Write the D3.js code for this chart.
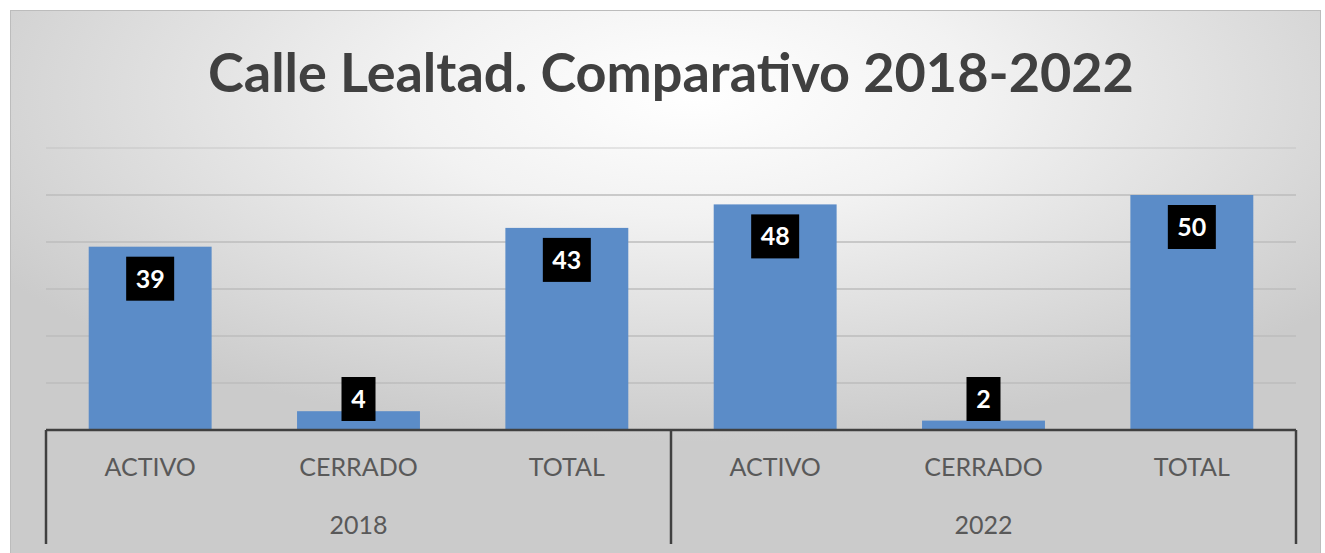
<!DOCTYPE html>
<html lang="es">
<head>
  <meta charset="UTF-8">
  <title>Calle Lealtad. Comparativo 2018-2022</title>
  <script src="https://d3js.org/d3.v7.min.js"></script>
  <style>
    body { margin: 0; background: #fff; }
    .grid line { stroke: #bdbdbd; stroke-width: 1.5; }
    .bar { fill: #5b8cc8; }
    .axis-line { stroke: #404040; stroke-width: 2.5; }
    .cat { font-family: Lato, sans-serif; font-size: 25px; fill: #595959; text-anchor: middle; }
    .title { font-family: Lato, sans-serif; font-weight: bold; font-size: 54px; fill: #404040; text-anchor: middle; }
    .lbl-box { fill: #000; }
    .lbl { font-family: Lato, sans-serif; font-weight: bold; font-size: 25px; fill: #fff; text-anchor: middle; }
  </style>
</head>
<body>
  <svg width="1325" height="553"></svg>
  <script>
    const categories = ["ACTIVO", "CERRADO", "TOTAL", "ACTIVO", "CERRADO", "TOTAL"];
    const groups = ["2018", "2022"];
    const values = [39, 4, 43, 48, 2, 50];
    const yTicks = [10, 20, 30, 40, 50, 60];

    const svg = d3.select("svg");
    const plotLeft = 46, plotRight = 1296, plotBase = 430, plotTop = 148;

    // fondo con degradado radial
    const defs = svg.append("defs");
    const grad = defs.append("radialGradient")
      .attr("id", "bg")
      .attr("cx", "52%").attr("cy", "15%").attr("r", "62%")
      .attr("fx", "52%").attr("fy", "15%");
    grad.append("stop").attr("offset", "0%").attr("stop-color", "#ffffff");
    grad.append("stop").attr("offset", "35%").attr("stop-color", "#f2f2f2");
    grad.append("stop").attr("offset", "100%").attr("stop-color", "#cbcbcb");

    svg.append("rect")
      .attr("x", 10.5).attr("y", 10.5)
      .attr("width", 1310).attr("height", 560)
      .attr("fill", "url(#bg)")
      .attr("stroke", "#bcbcbc");

    const idx = d3.range(values.length);
    const x = d3.scaleBand()
      .domain(idx)
      .range([plotLeft, plotRight])
      .paddingInner(0.41)
      .paddingOuter(0.205);

    const xg = d3.scaleBand()
      .domain(groups)
      .range([plotLeft, plotRight]);

    const y = d3.scaleLinear()
      .domain([0, 60])
      .range([plotBase, plotTop]);

    // líneas de cuadrícula
    svg.append("g")
      .attr("class", "grid")
      .selectAll("line")
      .data(yTicks)
      .join("line")
      .attr("x1", plotLeft).attr("x2", plotRight)
      .attr("y1", d => y(d)).attr("y2", d => y(d))
      .attr("stroke-opacity", d => d === 60 ? 0.45 : 1);

    // barras
    svg.selectAll(".bar")
      .data(idx)
      .join("rect")
      .attr("class", "bar")
      .attr("x", i => x(i))
      .attr("y", i => y(values[i]))
      .attr("width", x.bandwidth())
      .attr("height", i => plotBase - y(values[i]));

    // etiquetas de datos
    const boxH = 44;
    const lbl = svg.selectAll(".lblg")
      .data(idx)
      .join("g")
      .attr("class", "lblg");

    lbl.each(function (i) {
      const g = d3.select(this);
      const cx = x(i) + x.bandwidth() / 2;
      const boxW = String(values[i]).length > 1 ? 48 : 34;
      const yTop = Math.min(y(values[i]) + 10, plotBase - 9 - boxH);
      g.append("rect")
        .attr("class", "lbl-box")
        .attr("x", cx - boxW / 2).attr("y", yTop)
        .attr("width", boxW).attr("height", boxH);
      g.append("text")
        .attr("class", "lbl")
        .attr("x", cx).attr("y", yTop + boxH / 2 + 9)
        .text(values[i]);
    });

    // eje de categorías
    svg.append("line")
      .attr("class", "axis-line")
      .attr("x1", plotLeft).attr("x2", plotRight)
      .attr("y1", plotBase).attr("y2", plotBase);

    const seps = [plotLeft].concat(groups.map(g => xg(g) + xg.bandwidth()));
    svg.selectAll(".sep")
      .data(seps)
      .join("line")
      .attr("class", "axis-line")
      .attr("x1", d => d).attr("x2", d => d)
      .attr("y1", plotBase).attr("y2", 544);

    svg.selectAll(".cat-lbl")
      .data(idx)
      .join("text")
      .attr("class", "cat")
      .attr("x", i => x(i) + x.bandwidth() / 2)
      .attr("y", 476)
      .text(i => categories[i]);

    svg.selectAll(".grp-lbl")
      .data(groups)
      .join("text")
      .attr("class", "cat")
      .attr("x", d => xg(d) + xg.bandwidth() / 2)
      .attr("y", 534)
      .text(d => d);

    // título
    svg.append("text")
      .attr("class", "title")
      .attr("x", (plotLeft + plotRight) / 2)
      .attr("y", 92)
      .text("Calle Lealtad. Comparativo 2018-2022");
  </script>
</body>
</html>
